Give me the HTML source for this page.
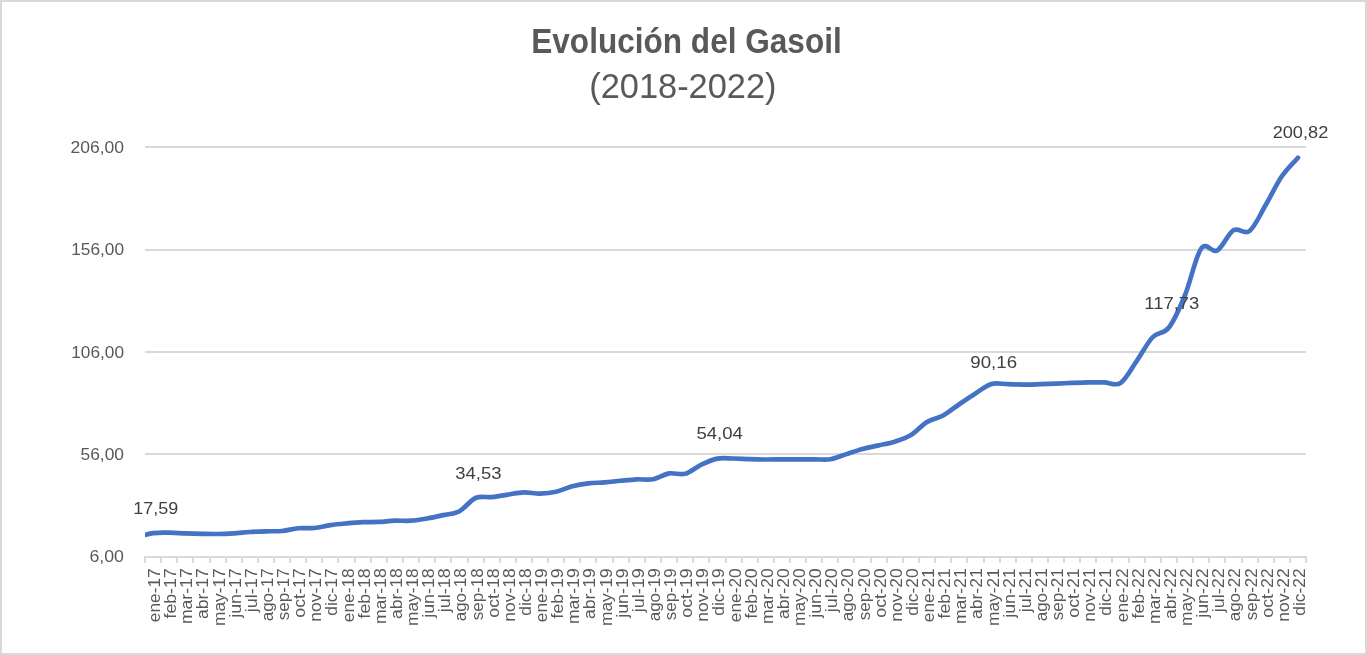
<!DOCTYPE html>
<html><head><meta charset="utf-8"><title>Evolución del Gasoil</title>
<style>
html,body{margin:0;padding:0;background:#fff;}
body{width:1367px;height:655px;overflow:hidden;position:relative;}
.frame{position:absolute;left:0;top:0;width:1367px;height:655px;box-sizing:border-box;border:2px solid #d9d9d9;background:#fff;}
svg{position:absolute;left:0;top:0;will-change:transform;}
text{font-family:"Liberation Sans",sans-serif;}
.ax{font-size:16.5px;fill:#595959;}
.dl{font-size:16.5px;fill:#404040;}
.t1{font-size:34.6px;font-weight:bold;fill:#595959;}
.t2{font-size:34.6px;fill:#595959;}
</style></head><body>
<div class="frame"></div>
<svg width="1367" height="655" viewBox="0 0 1367 655">
<rect x="145" y="146" width="1161" height="2" fill="#d9d9d9"/>
<rect x="145" y="249" width="1161" height="2" fill="#d9d9d9"/>
<rect x="145" y="351" width="1161" height="2" fill="#d9d9d9"/>
<rect x="145" y="453" width="1161" height="2" fill="#d9d9d9"/>
<rect x="144" y="556" width="1163" height="2" fill="#d9d9d9"/>
<rect x="144" y="557" width="2" height="6" fill="#d9d9d9"/>
<rect x="160" y="557" width="2" height="6" fill="#d9d9d9"/>
<rect x="176" y="557" width="2" height="6" fill="#d9d9d9"/>
<rect x="192" y="557" width="2" height="6" fill="#d9d9d9"/>
<rect x="209" y="557" width="2" height="6" fill="#d9d9d9"/>
<rect x="225" y="557" width="2" height="6" fill="#d9d9d9"/>
<rect x="241" y="557" width="2" height="6" fill="#d9d9d9"/>
<rect x="257" y="557" width="2" height="6" fill="#d9d9d9"/>
<rect x="273" y="557" width="2" height="6" fill="#d9d9d9"/>
<rect x="289" y="557" width="2" height="6" fill="#d9d9d9"/>
<rect x="305" y="557" width="2" height="6" fill="#d9d9d9"/>
<rect x="321" y="557" width="2" height="6" fill="#d9d9d9"/>
<rect x="337" y="557" width="2" height="6" fill="#d9d9d9"/>
<rect x="354" y="557" width="2" height="6" fill="#d9d9d9"/>
<rect x="370" y="557" width="2" height="6" fill="#d9d9d9"/>
<rect x="386" y="557" width="2" height="6" fill="#d9d9d9"/>
<rect x="402" y="557" width="2" height="6" fill="#d9d9d9"/>
<rect x="418" y="557" width="2" height="6" fill="#d9d9d9"/>
<rect x="434" y="557" width="2" height="6" fill="#d9d9d9"/>
<rect x="450" y="557" width="2" height="6" fill="#d9d9d9"/>
<rect x="467" y="557" width="2" height="6" fill="#d9d9d9"/>
<rect x="483" y="557" width="2" height="6" fill="#d9d9d9"/>
<rect x="499" y="557" width="2" height="6" fill="#d9d9d9"/>
<rect x="515" y="557" width="2" height="6" fill="#d9d9d9"/>
<rect x="531" y="557" width="2" height="6" fill="#d9d9d9"/>
<rect x="547" y="557" width="2" height="6" fill="#d9d9d9"/>
<rect x="563" y="557" width="2" height="6" fill="#d9d9d9"/>
<rect x="579" y="557" width="2" height="6" fill="#d9d9d9"/>
<rect x="595" y="557" width="2" height="6" fill="#d9d9d9"/>
<rect x="612" y="557" width="2" height="6" fill="#d9d9d9"/>
<rect x="628" y="557" width="2" height="6" fill="#d9d9d9"/>
<rect x="644" y="557" width="2" height="6" fill="#d9d9d9"/>
<rect x="660" y="557" width="2" height="6" fill="#d9d9d9"/>
<rect x="676" y="557" width="2" height="6" fill="#d9d9d9"/>
<rect x="692" y="557" width="2" height="6" fill="#d9d9d9"/>
<rect x="708" y="557" width="2" height="6" fill="#d9d9d9"/>
<rect x="725" y="557" width="2" height="6" fill="#d9d9d9"/>
<rect x="741" y="557" width="2" height="6" fill="#d9d9d9"/>
<rect x="757" y="557" width="2" height="6" fill="#d9d9d9"/>
<rect x="773" y="557" width="2" height="6" fill="#d9d9d9"/>
<rect x="789" y="557" width="2" height="6" fill="#d9d9d9"/>
<rect x="805" y="557" width="2" height="6" fill="#d9d9d9"/>
<rect x="821" y="557" width="2" height="6" fill="#d9d9d9"/>
<rect x="837" y="557" width="2" height="6" fill="#d9d9d9"/>
<rect x="853" y="557" width="2" height="6" fill="#d9d9d9"/>
<rect x="870" y="557" width="2" height="6" fill="#d9d9d9"/>
<rect x="886" y="557" width="2" height="6" fill="#d9d9d9"/>
<rect x="902" y="557" width="2" height="6" fill="#d9d9d9"/>
<rect x="918" y="557" width="2" height="6" fill="#d9d9d9"/>
<rect x="934" y="557" width="2" height="6" fill="#d9d9d9"/>
<rect x="950" y="557" width="2" height="6" fill="#d9d9d9"/>
<rect x="966" y="557" width="2" height="6" fill="#d9d9d9"/>
<rect x="983" y="557" width="2" height="6" fill="#d9d9d9"/>
<rect x="999" y="557" width="2" height="6" fill="#d9d9d9"/>
<rect x="1015" y="557" width="2" height="6" fill="#d9d9d9"/>
<rect x="1031" y="557" width="2" height="6" fill="#d9d9d9"/>
<rect x="1047" y="557" width="2" height="6" fill="#d9d9d9"/>
<rect x="1063" y="557" width="2" height="6" fill="#d9d9d9"/>
<rect x="1079" y="557" width="2" height="6" fill="#d9d9d9"/>
<rect x="1095" y="557" width="2" height="6" fill="#d9d9d9"/>
<rect x="1111" y="557" width="2" height="6" fill="#d9d9d9"/>
<rect x="1128" y="557" width="2" height="6" fill="#d9d9d9"/>
<rect x="1144" y="557" width="2" height="6" fill="#d9d9d9"/>
<rect x="1160" y="557" width="2" height="6" fill="#d9d9d9"/>
<rect x="1176" y="557" width="2" height="6" fill="#d9d9d9"/>
<rect x="1192" y="557" width="2" height="6" fill="#d9d9d9"/>
<rect x="1208" y="557" width="2" height="6" fill="#d9d9d9"/>
<rect x="1224" y="557" width="2" height="6" fill="#d9d9d9"/>
<rect x="1241" y="557" width="2" height="6" fill="#d9d9d9"/>
<rect x="1257" y="557" width="2" height="6" fill="#d9d9d9"/>
<rect x="1273" y="557" width="2" height="6" fill="#d9d9d9"/>
<rect x="1289" y="557" width="2" height="6" fill="#d9d9d9"/>
<rect x="1305" y="557" width="2" height="6" fill="#d9d9d9"/>
<text x="124.0" y="152.9" text-anchor="end" class="ax" textLength="53.6" lengthAdjust="spacingAndGlyphs">206,00</text>
<text x="124.0" y="254.9" text-anchor="end" class="ax" textLength="52.8" lengthAdjust="spacingAndGlyphs">156,00</text>
<text x="124.0" y="357.9" text-anchor="end" class="ax" textLength="52.8" lengthAdjust="spacingAndGlyphs">106,00</text>
<text x="124.0" y="459.9" text-anchor="end" class="ax" textLength="43.5" lengthAdjust="spacingAndGlyphs">56,00</text>
<text x="124.0" y="561.9" text-anchor="end" class="ax" textLength="34.6" lengthAdjust="spacingAndGlyphs">6,00</text>
<text transform="translate(160.06,568.3) rotate(-90)" text-anchor="end" class="ax" textLength="53.84" lengthAdjust="spacingAndGlyphs">ene-17</text>
<text transform="translate(176.19,568.3) rotate(-90)" text-anchor="end" class="ax" textLength="50.24" lengthAdjust="spacingAndGlyphs">feb-17</text>
<text transform="translate(192.31,568.3) rotate(-90)" text-anchor="end" class="ax" textLength="55.82" lengthAdjust="spacingAndGlyphs">mar-17</text>
<text transform="translate(208.44,568.3) rotate(-90)" text-anchor="end" class="ax" textLength="50.70" lengthAdjust="spacingAndGlyphs">abr-17</text>
<text transform="translate(224.56,568.3) rotate(-90)" text-anchor="end" class="ax" textLength="57.76" lengthAdjust="spacingAndGlyphs">may-17</text>
<text transform="translate(240.69,568.3) rotate(-90)" text-anchor="end" class="ax" textLength="49.51" lengthAdjust="spacingAndGlyphs">jun-17</text>
<text transform="translate(256.81,568.3) rotate(-90)" text-anchor="end" class="ax" textLength="43.98" lengthAdjust="spacingAndGlyphs">jul-17</text>
<text transform="translate(272.94,568.3) rotate(-90)" text-anchor="end" class="ax" textLength="53.02" lengthAdjust="spacingAndGlyphs">ago-17</text>
<text transform="translate(289.06,568.3) rotate(-90)" text-anchor="end" class="ax" textLength="51.84" lengthAdjust="spacingAndGlyphs">sep-17</text>
<text transform="translate(305.19,568.3) rotate(-90)" text-anchor="end" class="ax" textLength="49.44" lengthAdjust="spacingAndGlyphs">oct-17</text>
<text transform="translate(321.31,568.3) rotate(-90)" text-anchor="end" class="ax" textLength="53.52" lengthAdjust="spacingAndGlyphs">nov-17</text>
<text transform="translate(337.44,568.3) rotate(-90)" text-anchor="end" class="ax" textLength="47.42" lengthAdjust="spacingAndGlyphs">dic-17</text>
<text transform="translate(353.56,568.3) rotate(-90)" text-anchor="end" class="ax" textLength="53.84" lengthAdjust="spacingAndGlyphs">ene-18</text>
<text transform="translate(369.69,568.3) rotate(-90)" text-anchor="end" class="ax" textLength="50.24" lengthAdjust="spacingAndGlyphs">feb-18</text>
<text transform="translate(385.81,568.3) rotate(-90)" text-anchor="end" class="ax" textLength="55.82" lengthAdjust="spacingAndGlyphs">mar-18</text>
<text transform="translate(401.94,568.3) rotate(-90)" text-anchor="end" class="ax" textLength="50.70" lengthAdjust="spacingAndGlyphs">abr-18</text>
<text transform="translate(418.06,568.3) rotate(-90)" text-anchor="end" class="ax" textLength="57.76" lengthAdjust="spacingAndGlyphs">may-18</text>
<text transform="translate(434.19,568.3) rotate(-90)" text-anchor="end" class="ax" textLength="49.51" lengthAdjust="spacingAndGlyphs">jun-18</text>
<text transform="translate(450.31,568.3) rotate(-90)" text-anchor="end" class="ax" textLength="43.98" lengthAdjust="spacingAndGlyphs">jul-18</text>
<text transform="translate(466.44,568.3) rotate(-90)" text-anchor="end" class="ax" textLength="53.02" lengthAdjust="spacingAndGlyphs">ago-18</text>
<text transform="translate(482.56,568.3) rotate(-90)" text-anchor="end" class="ax" textLength="51.84" lengthAdjust="spacingAndGlyphs">sep-18</text>
<text transform="translate(498.69,568.3) rotate(-90)" text-anchor="end" class="ax" textLength="49.44" lengthAdjust="spacingAndGlyphs">oct-18</text>
<text transform="translate(514.81,568.3) rotate(-90)" text-anchor="end" class="ax" textLength="53.52" lengthAdjust="spacingAndGlyphs">nov-18</text>
<text transform="translate(530.94,568.3) rotate(-90)" text-anchor="end" class="ax" textLength="47.42" lengthAdjust="spacingAndGlyphs">dic-18</text>
<text transform="translate(547.06,568.3) rotate(-90)" text-anchor="end" class="ax" textLength="53.84" lengthAdjust="spacingAndGlyphs">ene-19</text>
<text transform="translate(563.19,568.3) rotate(-90)" text-anchor="end" class="ax" textLength="50.24" lengthAdjust="spacingAndGlyphs">feb-19</text>
<text transform="translate(579.31,568.3) rotate(-90)" text-anchor="end" class="ax" textLength="55.82" lengthAdjust="spacingAndGlyphs">mar-19</text>
<text transform="translate(595.44,568.3) rotate(-90)" text-anchor="end" class="ax" textLength="50.70" lengthAdjust="spacingAndGlyphs">abr-19</text>
<text transform="translate(611.56,568.3) rotate(-90)" text-anchor="end" class="ax" textLength="57.76" lengthAdjust="spacingAndGlyphs">may-19</text>
<text transform="translate(627.69,568.3) rotate(-90)" text-anchor="end" class="ax" textLength="49.51" lengthAdjust="spacingAndGlyphs">jun-19</text>
<text transform="translate(643.81,568.3) rotate(-90)" text-anchor="end" class="ax" textLength="43.98" lengthAdjust="spacingAndGlyphs">jul-19</text>
<text transform="translate(659.94,568.3) rotate(-90)" text-anchor="end" class="ax" textLength="53.02" lengthAdjust="spacingAndGlyphs">ago-19</text>
<text transform="translate(676.06,568.3) rotate(-90)" text-anchor="end" class="ax" textLength="51.84" lengthAdjust="spacingAndGlyphs">sep-19</text>
<text transform="translate(692.19,568.3) rotate(-90)" text-anchor="end" class="ax" textLength="49.44" lengthAdjust="spacingAndGlyphs">oct-19</text>
<text transform="translate(708.31,568.3) rotate(-90)" text-anchor="end" class="ax" textLength="53.52" lengthAdjust="spacingAndGlyphs">nov-19</text>
<text transform="translate(724.44,568.3) rotate(-90)" text-anchor="end" class="ax" textLength="47.42" lengthAdjust="spacingAndGlyphs">dic-19</text>
<text transform="translate(740.56,568.3) rotate(-90)" text-anchor="end" class="ax" textLength="53.84" lengthAdjust="spacingAndGlyphs">ene-20</text>
<text transform="translate(756.69,568.3) rotate(-90)" text-anchor="end" class="ax" textLength="50.24" lengthAdjust="spacingAndGlyphs">feb-20</text>
<text transform="translate(772.81,568.3) rotate(-90)" text-anchor="end" class="ax" textLength="55.82" lengthAdjust="spacingAndGlyphs">mar-20</text>
<text transform="translate(788.94,568.3) rotate(-90)" text-anchor="end" class="ax" textLength="50.70" lengthAdjust="spacingAndGlyphs">abr-20</text>
<text transform="translate(805.06,568.3) rotate(-90)" text-anchor="end" class="ax" textLength="57.76" lengthAdjust="spacingAndGlyphs">may-20</text>
<text transform="translate(821.19,568.3) rotate(-90)" text-anchor="end" class="ax" textLength="49.51" lengthAdjust="spacingAndGlyphs">jun-20</text>
<text transform="translate(837.31,568.3) rotate(-90)" text-anchor="end" class="ax" textLength="43.98" lengthAdjust="spacingAndGlyphs">jul-20</text>
<text transform="translate(853.44,568.3) rotate(-90)" text-anchor="end" class="ax" textLength="53.02" lengthAdjust="spacingAndGlyphs">ago-20</text>
<text transform="translate(869.56,568.3) rotate(-90)" text-anchor="end" class="ax" textLength="51.84" lengthAdjust="spacingAndGlyphs">sep-20</text>
<text transform="translate(885.69,568.3) rotate(-90)" text-anchor="end" class="ax" textLength="49.44" lengthAdjust="spacingAndGlyphs">oct-20</text>
<text transform="translate(901.81,568.3) rotate(-90)" text-anchor="end" class="ax" textLength="53.52" lengthAdjust="spacingAndGlyphs">nov-20</text>
<text transform="translate(917.94,568.3) rotate(-90)" text-anchor="end" class="ax" textLength="47.42" lengthAdjust="spacingAndGlyphs">dic-20</text>
<text transform="translate(934.06,568.3) rotate(-90)" text-anchor="end" class="ax" textLength="53.84" lengthAdjust="spacingAndGlyphs">ene-21</text>
<text transform="translate(950.19,568.3) rotate(-90)" text-anchor="end" class="ax" textLength="50.24" lengthAdjust="spacingAndGlyphs">feb-21</text>
<text transform="translate(966.31,568.3) rotate(-90)" text-anchor="end" class="ax" textLength="55.82" lengthAdjust="spacingAndGlyphs">mar-21</text>
<text transform="translate(982.44,568.3) rotate(-90)" text-anchor="end" class="ax" textLength="50.70" lengthAdjust="spacingAndGlyphs">abr-21</text>
<text transform="translate(998.56,568.3) rotate(-90)" text-anchor="end" class="ax" textLength="57.76" lengthAdjust="spacingAndGlyphs">may-21</text>
<text transform="translate(1014.69,568.3) rotate(-90)" text-anchor="end" class="ax" textLength="49.51" lengthAdjust="spacingAndGlyphs">jun-21</text>
<text transform="translate(1030.81,568.3) rotate(-90)" text-anchor="end" class="ax" textLength="43.98" lengthAdjust="spacingAndGlyphs">jul-21</text>
<text transform="translate(1046.94,568.3) rotate(-90)" text-anchor="end" class="ax" textLength="53.02" lengthAdjust="spacingAndGlyphs">ago-21</text>
<text transform="translate(1063.06,568.3) rotate(-90)" text-anchor="end" class="ax" textLength="51.84" lengthAdjust="spacingAndGlyphs">sep-21</text>
<text transform="translate(1079.19,568.3) rotate(-90)" text-anchor="end" class="ax" textLength="49.44" lengthAdjust="spacingAndGlyphs">oct-21</text>
<text transform="translate(1095.31,568.3) rotate(-90)" text-anchor="end" class="ax" textLength="53.52" lengthAdjust="spacingAndGlyphs">nov-21</text>
<text transform="translate(1111.44,568.3) rotate(-90)" text-anchor="end" class="ax" textLength="47.42" lengthAdjust="spacingAndGlyphs">dic-21</text>
<text transform="translate(1127.56,568.3) rotate(-90)" text-anchor="end" class="ax" textLength="53.84" lengthAdjust="spacingAndGlyphs">ene-22</text>
<text transform="translate(1143.69,568.3) rotate(-90)" text-anchor="end" class="ax" textLength="50.24" lengthAdjust="spacingAndGlyphs">feb-22</text>
<text transform="translate(1159.81,568.3) rotate(-90)" text-anchor="end" class="ax" textLength="55.82" lengthAdjust="spacingAndGlyphs">mar-22</text>
<text transform="translate(1175.94,568.3) rotate(-90)" text-anchor="end" class="ax" textLength="50.70" lengthAdjust="spacingAndGlyphs">abr-22</text>
<text transform="translate(1192.06,568.3) rotate(-90)" text-anchor="end" class="ax" textLength="57.76" lengthAdjust="spacingAndGlyphs">may-22</text>
<text transform="translate(1208.19,568.3) rotate(-90)" text-anchor="end" class="ax" textLength="49.51" lengthAdjust="spacingAndGlyphs">jun-22</text>
<text transform="translate(1224.31,568.3) rotate(-90)" text-anchor="end" class="ax" textLength="43.98" lengthAdjust="spacingAndGlyphs">jul-22</text>
<text transform="translate(1240.44,568.3) rotate(-90)" text-anchor="end" class="ax" textLength="53.02" lengthAdjust="spacingAndGlyphs">ago-22</text>
<text transform="translate(1256.56,568.3) rotate(-90)" text-anchor="end" class="ax" textLength="51.84" lengthAdjust="spacingAndGlyphs">sep-22</text>
<text transform="translate(1272.69,568.3) rotate(-90)" text-anchor="end" class="ax" textLength="49.44" lengthAdjust="spacingAndGlyphs">oct-22</text>
<text transform="translate(1288.81,568.3) rotate(-90)" text-anchor="end" class="ax" textLength="53.52" lengthAdjust="spacingAndGlyphs">nov-22</text>
<text transform="translate(1304.94,568.3) rotate(-90)" text-anchor="end" class="ax" textLength="47.42" lengthAdjust="spacingAndGlyphs">dic-22</text>
<clipPath id="cp"><rect x="145" y="100" width="1200" height="460"/></clipPath>
<path d="M136.94,537.00 C139.62,536.35 147.69,533.82 153.06,533.10 C158.44,532.38 163.81,532.67 169.19,532.70 C174.56,532.73 179.94,533.12 185.31,533.30 C190.69,533.48 196.06,533.68 201.44,533.80 C206.81,533.92 212.19,534.08 217.56,534.00 C222.94,533.92 228.31,533.63 233.69,533.30 C239.06,532.97 244.44,532.33 249.81,532.00 C255.19,531.67 260.56,531.47 265.94,531.30 C271.31,531.13 276.69,531.50 282.06,531.00 C287.44,530.50 292.81,528.80 298.19,528.30 C303.56,527.80 308.94,528.53 314.31,528.00 C319.69,527.47 325.06,525.87 330.44,525.10 C335.81,524.33 341.19,523.88 346.56,523.40 C351.94,522.92 357.31,522.45 362.69,522.20 C368.06,521.95 373.44,522.15 378.81,521.90 C384.19,521.65 389.56,520.90 394.94,520.70 C400.31,520.50 405.69,521.07 411.06,520.70 C416.44,520.33 421.81,519.43 427.19,518.50 C432.56,517.57 437.94,516.32 443.31,515.10 C448.69,513.88 454.06,514.05 459.44,511.20 C464.81,508.35 470.19,500.35 475.56,498.00 C480.94,495.65 486.31,497.67 491.69,497.10 C497.06,496.53 502.44,495.38 507.81,494.60 C513.19,493.82 518.56,492.57 523.94,492.40 C529.31,492.23 534.69,493.72 540.06,493.60 C545.44,493.48 550.81,492.92 556.19,491.70 C561.56,490.48 566.94,487.68 572.31,486.30 C577.69,484.92 583.06,484.05 588.44,483.40 C593.81,482.75 599.19,482.85 604.56,482.40 C609.94,481.95 615.31,481.22 620.69,480.70 C626.06,480.18 631.44,479.53 636.81,479.30 C642.19,479.07 647.56,480.28 652.94,479.30 C658.31,478.32 663.69,474.32 669.06,473.40 C674.44,472.48 679.81,475.27 685.19,473.80 C690.56,472.33 695.94,467.13 701.31,464.60 C706.69,462.07 712.06,459.62 717.44,458.60 C722.81,457.58 728.19,458.40 733.56,458.50 C738.94,458.60 744.31,459.03 749.69,459.20 C755.06,459.37 760.44,459.47 765.81,459.50 C771.19,459.53 776.56,459.43 781.94,459.40 C787.31,459.37 792.69,459.32 798.06,459.30 C803.44,459.28 808.81,459.30 814.19,459.30 C819.56,459.30 824.94,460.17 830.31,459.30 C835.69,458.43 841.06,455.82 846.44,454.10 C851.81,452.38 857.19,450.45 862.56,449.00 C867.94,447.55 873.31,446.62 878.69,445.40 C884.06,444.18 889.44,443.42 894.81,441.70 C900.19,439.98 905.56,438.40 910.94,435.10 C916.31,431.80 921.69,425.17 927.06,421.90 C932.44,418.63 937.81,418.45 943.19,415.50 C948.56,412.55 953.94,407.88 959.31,404.20 C964.69,400.52 970.06,396.78 975.44,393.40 C980.81,390.02 986.19,385.43 991.56,383.90 C996.94,382.37 1002.31,384.08 1007.69,384.20 C1013.06,384.32 1018.44,384.60 1023.81,384.60 C1029.19,384.60 1034.56,384.37 1039.94,384.20 C1045.31,384.03 1050.69,383.82 1056.06,383.60 C1061.44,383.38 1066.81,383.10 1072.19,382.90 C1077.56,382.70 1082.94,382.48 1088.31,382.40 C1093.69,382.32 1099.06,382.30 1104.44,382.40 C1109.81,382.50 1115.19,386.57 1120.56,383.00 C1125.94,379.43 1131.31,368.67 1136.69,361.00 C1142.06,353.33 1147.44,342.58 1152.81,337.00 C1158.19,331.42 1163.56,334.50 1168.94,327.50 C1174.31,320.50 1179.69,308.17 1185.06,295.00 C1190.44,281.83 1195.81,255.92 1201.19,248.50 C1206.56,241.08 1211.94,253.53 1217.31,250.50 C1222.69,247.47 1228.06,233.55 1233.44,230.30 C1238.81,227.05 1244.19,235.22 1249.56,231.00 C1254.94,226.78 1260.31,214.12 1265.69,205.00 C1271.06,195.88 1276.44,184.17 1281.81,176.30 C1287.19,168.43 1295.25,160.88 1297.94,157.80" fill="none" stroke="#4472c4" stroke-width="4.67" stroke-linecap="round" stroke-linejoin="round" clip-path="url(#cp)"/>
<text x="155.85" y="513.8" text-anchor="middle" class="dl" textLength="45.00" lengthAdjust="spacingAndGlyphs">17,59</text>
<text x="478.40" y="478.8" text-anchor="middle" class="dl" textLength="46.10" lengthAdjust="spacingAndGlyphs">34,53</text>
<text x="719.65" y="439.0" text-anchor="middle" class="dl" textLength="46.40" lengthAdjust="spacingAndGlyphs">54,04</text>
<text x="993.65" y="367.8" text-anchor="middle" class="dl" textLength="46.80" lengthAdjust="spacingAndGlyphs">90,16</text>
<text x="1171.80" y="309.0" text-anchor="middle" class="dl" textLength="55.10" lengthAdjust="spacingAndGlyphs">117,73</text>
<text x="1300.45" y="137.8" text-anchor="middle" class="dl" textLength="55.60" lengthAdjust="spacingAndGlyphs">200,82</text>
<text x="686.5" y="52.7" text-anchor="middle" class="t1" textLength="310.5" lengthAdjust="spacingAndGlyphs">Evolución del Gasoil</text>
<text x="682.9" y="97.7" text-anchor="middle" class="t2" textLength="187.2" lengthAdjust="spacingAndGlyphs">(2018-2022)</text>
</svg>
</body></html>
